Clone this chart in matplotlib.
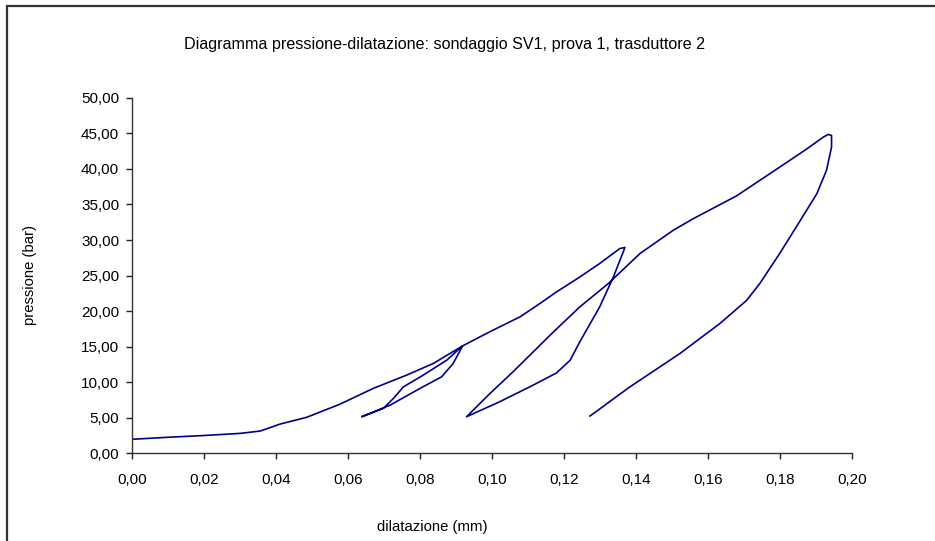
import numpy as np
import matplotlib.pyplot as plt
from matplotlib.patches import Rectangle
from matplotlib.ticker import FuncFormatter

plt.rcParams['font.family'] = ['Liberation Sans', 'DejaVu Sans']

# dilatazione (mm) e pressione (bar), letti in ordine lungo la prova
dil = [0.0000, 0.0100, 0.0200, 0.0301, 0.0357, 0.0412, 0.0486,
       0.0579, 0.0671, 0.0764, 0.0838, 0.0884, 0.0919,
       0.0893, 0.0861, 0.0801, 0.0718, 0.0639,
       0.0699, 0.0727, 0.0755, 0.0810, 0.0875, 0.0919,
       0.0995, 0.1079, 0.1134, 0.1180, 0.1245, 0.1300, 0.1356, 0.1370, 0.1366,
       0.1338, 0.1300, 0.1245, 0.1218, 0.1180, 0.1106, 0.1020, 0.0930,
       0.0995, 0.1060, 0.1116, 0.1170, 0.1245, 0.1324, 0.1412, 0.1504, 0.1560,
       0.1680, 0.1800, 0.1875, 0.1921, 0.1935, 0.1944, 0.1944,
       0.1930, 0.1903, 0.1875, 0.1800, 0.1745, 0.1708, 0.1634, 0.1523, 0.1384, 0.1273]
pres = [1.97, 2.25, 2.50, 2.80, 3.13, 4.11, 5.06,
        6.92, 9.13, 11.00, 12.64, 14.04, 15.10,
        12.64, 10.76, 9.13, 6.78, 5.14,
        6.32, 7.72, 9.35, 11.00, 13.10, 15.10,
        17.10, 19.20, 21.07, 22.70, 24.80, 26.70, 28.80, 28.95, 28.40,
        24.80, 20.60, 15.70, 13.10, 11.30, 9.35, 7.20, 5.14,
        8.40, 11.50, 14.30, 17.00, 20.60, 23.88, 28.10, 31.36, 33.00,
        36.20, 40.25, 42.80, 44.47, 44.85, 44.70, 43.06,
        39.80, 36.50, 34.20, 28.10, 23.90, 21.50, 18.26, 14.04, 9.35, 5.24]

x_ticks = np.arange(0, 0.201, 0.02)
y_ticks = np.arange(0, 50.1, 5)

fig = plt.figure(figsize=(9.35, 5.41), dpi=100)
ax = fig.add_axes([131.7/935, 1 - 453.3/541, 720/935, 355.5/541])

ax.plot(dil, pres, color='#00008b', lw=1.2, solid_joinstyle='round')

ax.set_xlim(0, 0.20)
ax.set_ylim(0, 50)
ax.set_xticks(x_ticks)
ax.set_yticks(y_ticks)
ax.xaxis.set_major_formatter(FuncFormatter(lambda v, p: f'{v:.2f}'.replace('.', ',')))
ax.yaxis.set_major_formatter(FuncFormatter(lambda v, p: f'{v:.2f}'.replace('.', ',')))
ax.tick_params(direction='out', length=4, width=1, colors='#222222', labelsize=11,
               labelcolor='black', pad=5)
ax.tick_params(axis='x', pad=10)
for s in ['top', 'right']:
    ax.spines[s].set_visible(False)
for s in ['left', 'bottom']:
    ax.spines[s].set_color('#333333')
    ax.spines[s].set_linewidth(1)

fig.text(445/935, 1 - 44/541, 'Diagramma pressione-dilatazione: sondaggio SV1, prova 1, trasduttore 2',
         ha='center', va='center', fontsize=11.6)
fig.text(432/935, 1 - 527/541, 'dilatazione (mm)', ha='center', va='center', fontsize=10.7)
fig.text(30/935, 1 - 275/541, 'pressione (bar)', ha='center', va='center',
         rotation=90, fontsize=10.7)

# cornice del grafico
fig.patches.append(Rectangle((7/935, -0.1), 1.2, 1 - 6/541 + 0.1, transform=fig.transFigure,
                             fill=False, edgecolor='#333333', lw=1.6))

fig.savefig('out.png', dpi=100)
